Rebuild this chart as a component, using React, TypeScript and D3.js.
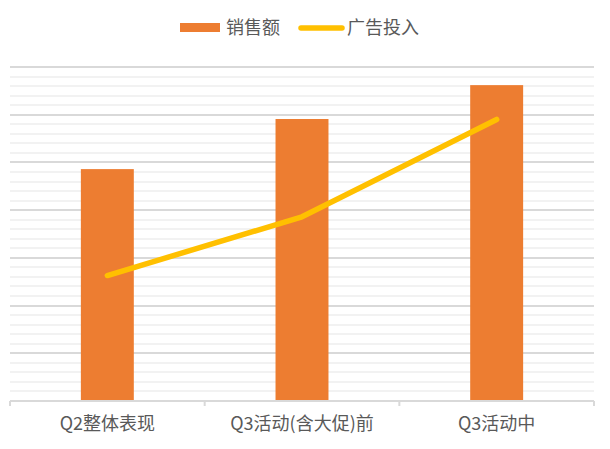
import React from "react";
import * as d3 from "d3";

const categories = ["Q2整体表现", "Q3活动(含大促)前", "Q3活动中"];
const sales = [48.6, 59.1, 66.2];
const adSpend = [26.3, 38.6, 59.0];
const seriesNames = ["销售额", "广告投入"];
const yMax = 70;
const majorStep = 10;
const minorStep = 2;

const W = 610;
const H = 449;
const margin = { left: 10, right: 16, top: 67, bottom: 48 };

export default function App() {
  const x = d3
    .scaleBand<string>()
    .domain(categories)
    .range([margin.left, W - margin.right])
    .padding(0);
  const y = d3
    .scaleLinear()
    .domain([0, yMax])
    .range([H - margin.bottom, margin.top]);
  const bw = x.bandwidth() * 0.272;
  const minorTicks = d3.range(0, yMax + 0.001, minorStep).filter((v) => Math.abs(v % majorStep) > 0.001);
  const majorTicks = d3.range(majorStep, yMax + 0.001, majorStep);
  const line = d3
    .line<number>()
    .x((_, i) => (x(categories[i]) as number) + x.bandwidth() / 2)
    .y((d) => y(d));
  const font = "'Noto Sans CJK SC', 'Noto Sans', sans-serif";
  const boundaries = [...categories.map((c) => x(c) as number), W - margin.right];
  return (
    <svg width={W} height={H} style={{ position: "absolute", left: 0, top: 0, background: "#fff" }}>
      {minorTicks.map((v) => (
        <line key={"m" + v} x1={margin.left} x2={W - margin.right} y1={Math.round(y(v))} y2={Math.round(y(v))} stroke="#f2f2f2" strokeWidth={2} />
      ))}
      {majorTicks.map((v) => (
        <line key={"M" + v} x1={margin.left} x2={W - margin.right} y1={Math.round(y(v))} y2={Math.round(y(v))} stroke="#d9d9d9" strokeWidth={2} />
      ))}
      {categories.map((c, i) => (
        <rect key={c} x={(x(c) as number) + x.bandwidth() / 2 - bw / 2} width={bw} y={y(sales[i])} height={y(0) - y(sales[i])} fill="#ED7D31" />
      ))}
      <line x1={margin.left} x2={W - margin.right} y1={y(0)} y2={y(0)} stroke="#d9d9d9" strokeWidth={2} />
      {boundaries.map((b, i) => (
        <line key={"t" + i} x1={b} x2={b} y1={y(0)} y2={y(0) + 5} stroke="#d9d9d9" strokeWidth={2} />
      ))}
      <path d={line(adSpend) || ""} fill="none" stroke="#FFC000" strokeWidth={5.5} strokeLinecap="round" strokeLinejoin="round" />
      {categories.map((c) => (
        <text key={"l" + c} x={(x(c) as number) + x.bandwidth() / 2} y={430} textAnchor="middle" fontSize={18} fill="#595959" fontFamily={font}>
          {c}
        </text>
      ))}
      <g fontFamily={font} fontSize={18} fill="#595959">
        <rect x={180} y={23} width={40} height={9} fill="#ED7D31" />
        <text x={226} y={34}>{seriesNames[0]}</text>
        <line x1={301} x2={342} y1={28} y2={28} stroke="#FFC000" strokeWidth={5.5} strokeLinecap="round" />
        <text x={347} y={34}>{seriesNames[1]}</text>
      </g>
    </svg>
  );
}
